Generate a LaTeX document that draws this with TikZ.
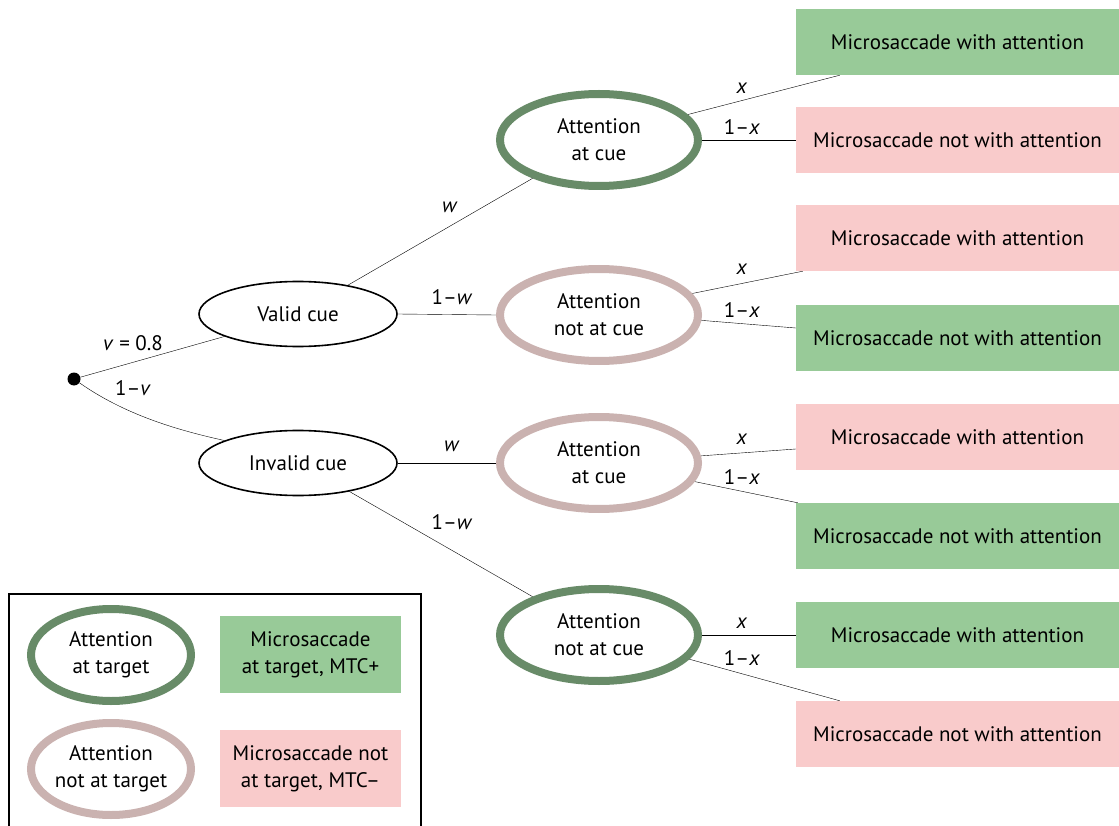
\documentclass[tikz,border=0pt]{standalone}
\usepackage{fontspec}
\setmainfont{PT Sans}
\usetikzlibrary{shapes.geometric,backgrounds}

\definecolor{msgreen}{RGB}{152,202,152}
\definecolor{mspink}{RGB}{249,203,203}
\definecolor{attgreen}{RGB}{104,139,104}
\definecolor{attpink}{RGB}{202,178,176}

\begin{document}
\begin{tikzpicture}[x=1pt, y=-1pt,
    every node/.style = {font=\fontsize{21}{27}\selectfont},
    cue/.style = {draw, ellipse, line width=1.6pt, minimum width=198pt, minimum height=65pt, inner sep=0pt},
    att/.style = {draw, ellipse, line width=8pt, minimum width=198pt, minimum height=92pt, inner sep=0pt, align=center},
    good/.style = {att, draw=attgreen},
    bad/.style = {att, draw=attpink},
    ms/.style = {rectangle, minimum width=323pt, minimum height=66pt, inner sep=0pt, align=center},
    msplus/.style = {ms, fill=msgreen},
    msminus/.style = {ms, fill=mspink}]
  \useasboundingbox (0,0) rectangle (1119,826);

  % tree
  \node[fill, circle, inner sep=0pt, minimum size=13pt] (root) at (74,379) {};
  \node[cue] (valid) at (298,314) {Valid cue};
  \node[cue] (invalid) at (298,463) {Invalid cue};

  \node[good] (att_1) at (599,140) {Attention\\at cue};
  \node[bad] (att_2) at (599,315) {Attention\\not at cue};
  \node[bad] (att_3) at (599,463) {Attention\\at cue};
  \node[good] (att_4) at (599,635) {Attention\\not at cue};

  \node[msplus] (ms_1) at (957.5,42) {Microsaccade with attention};
  \node[msminus] (ms_2) at (957.5,140) {Microsaccade not with attention};
  \node[msminus] (ms_3) at (957.5,238) {Microsaccade with attention};
  \node[msplus] (ms_4) at (957.5,338) {Microsaccade not with attention};
  \node[msminus] (ms_5) at (957.5,437) {Microsaccade with attention};
  \node[msplus] (ms_6) at (957.5,536) {Microsaccade not with attention};
  \node[msplus] (ms_7) at (957.5,635) {Microsaccade with attention};
  \node[msminus] (ms_8) at (957.5,734) {Microsaccade not with attention};

  \begin{scope}[on background layer, line width=1.6pt]
    \draw (root) -- (valid.197);
    \draw (root) .. controls +(50,35) and +(-50,-11) .. (invalid.163);

    \draw (valid.30) -- (att_1.210);
    \draw (valid.east) -- (att_2.west);
    \draw (invalid.east) -- (att_3.west);
    \draw (invalid.-29) -- (att_4.150);

    \draw (att_1.16) -- ([xshift=44pt]ms_1.south west);
    \draw (att_1.east) -- (ms_2.west);
    \draw (att_2.13) -- ([xshift=7pt]ms_3.south west);
    \draw (att_2.-3) -- ([yshift=10pt]ms_4.west);
    \draw (att_3.4) -- ([yshift=-12pt]ms_5.west);
    \draw (att_3.-11) -- ([xshift=2pt]ms_6.north west);
    \draw (att_4.east) -- (ms_7.west);
    \draw (att_4.-15) -- ([xshift=44pt]ms_8.north west);
  \end{scope}

  % probabilities
  \node (p_v) at (133,343) {\textit{v} = 0.8};
  \node (p_nv) at (133,388) {1\textendash\textit{v}};
  \node (p_w1) at (450,207) {\textit{w}};
  \node (p_nw1) at (452,297) {1\textendash\textit{w}};
  \node (p_w2) at (452,446) {\textit{w}};
  \node (p_nw2) at (452,522) {1\textendash\textit{w}};
  \node (p_x1) at (742,88) {\textit{x}};
  \node (p_nx1) at (742,127) {1\textendash\textit{x}};
  \node (p_x2) at (742,269) {\textit{x}};
  \node (p_nx2) at (742,310) {1\textendash\textit{x}};
  \node (p_x3) at (742,439) {\textit{x}};
  \node (p_nx3) at (742,477) {1\textendash\textit{x}};
  \node (p_x4) at (742,623) {\textit{x}};
  \node (p_nx4) at (742,658) {1\textendash\textit{x}};

  % legend
  \draw[line width=1.6pt] (9,826) |- (421,594) -- (421,826);
  \node[good, minimum width=160pt] (key_1) at (111,655) {Attention\\at target};
  \node[bad, minimum width=160pt] (key_2) at (111,769) {Attention\\not at target};
  \node[msplus, minimum width=181pt, minimum height=77pt] (key_3) at (310.5,654.5) {Microsaccade\\at target, MTC+};
  \node[msminus, minimum width=181pt, minimum height=77pt] (key_4) at (310.5,768.5) {Microsaccade not\\at target, MTC\textendash};
\end{tikzpicture}
\end{document}
